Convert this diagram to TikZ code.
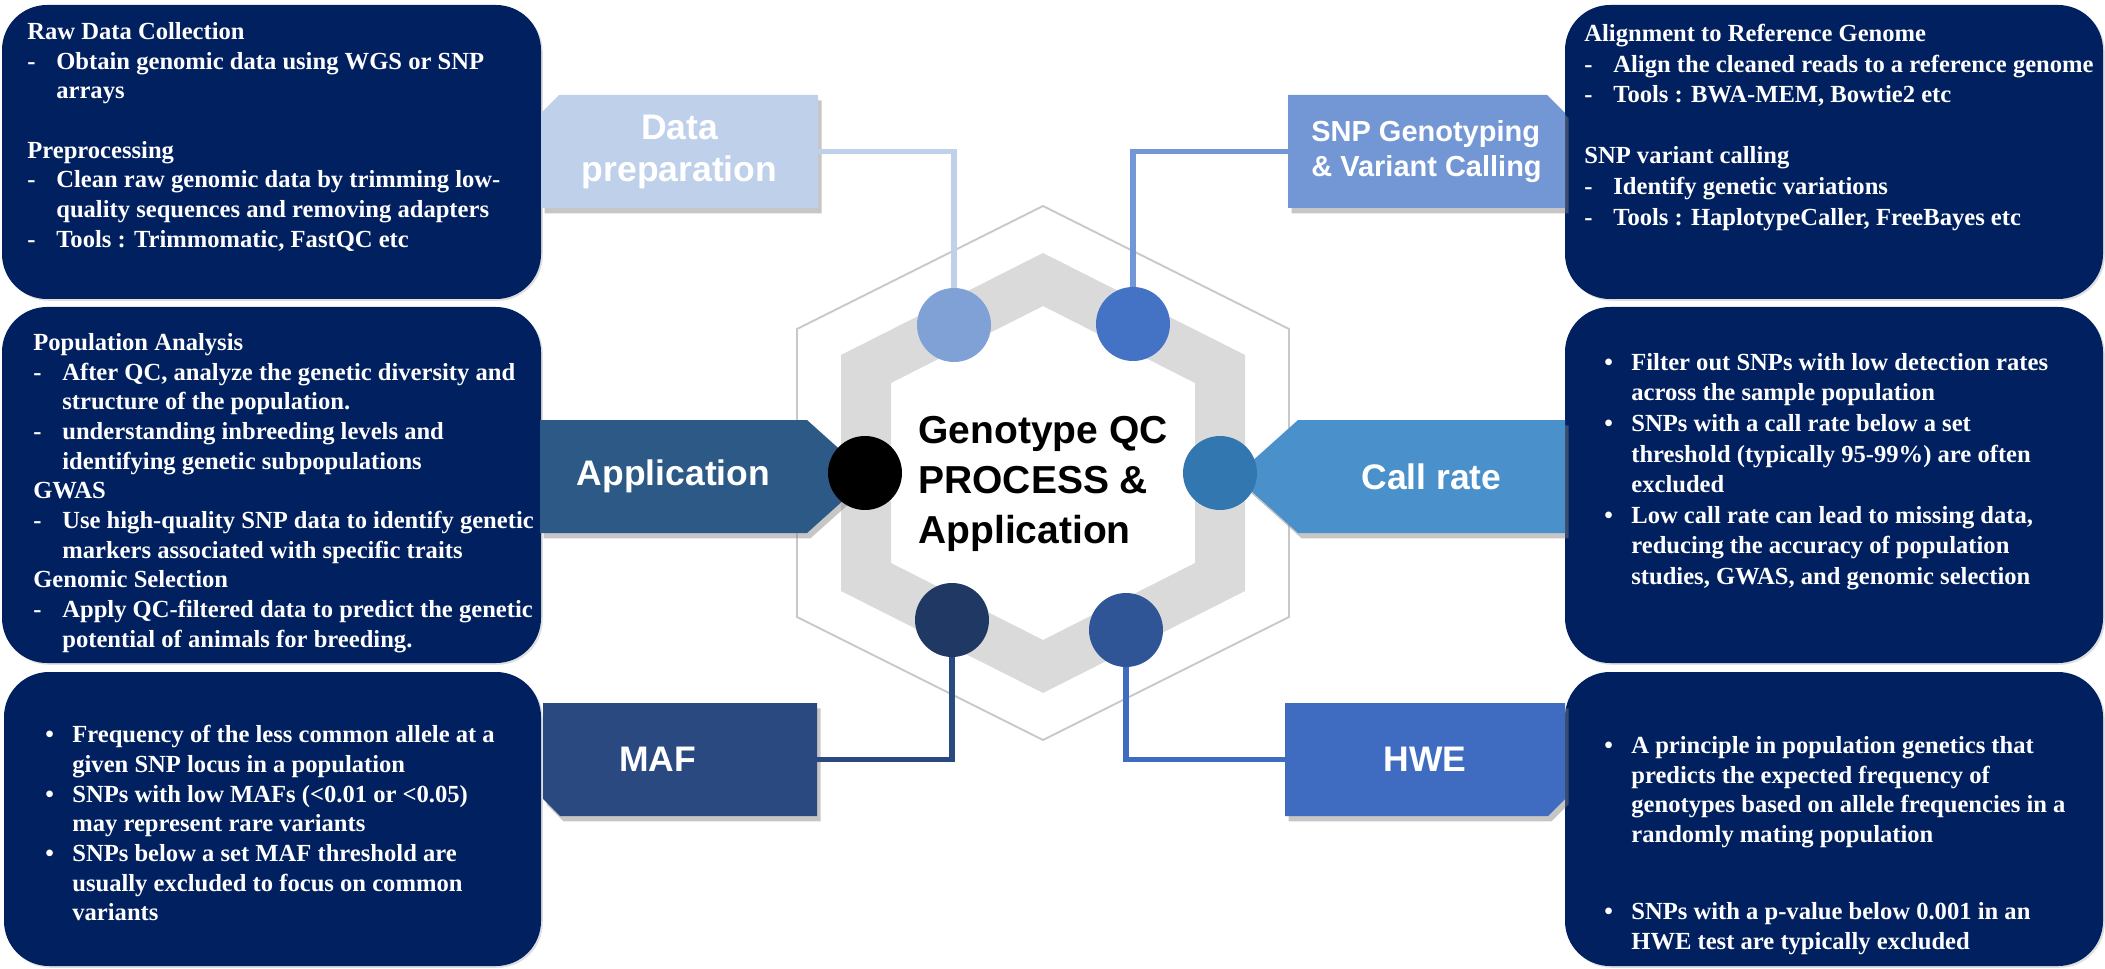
\documentclass[tikz,border=0pt]{standalone}
\usepackage{fontspec}
\setmainfont{Liberation Serif}
\newfontfamily\arialf{Liberation Sans}
\usetikzlibrary{shadows}
\definecolor{navy}{HTML}{002060}
\definecolor{dpblue}{HTML}{BFD1EA}
\definecolor{dpdot}{HTML}{7FA1D6}
\definecolor{snpblue}{HTML}{7396D4}
\definecolor{snpdot}{HTML}{4472C4}
\definecolor{appblue}{HTML}{2D5986}
\definecolor{crblue}{HTML}{4A90CA}
\definecolor{crdot}{HTML}{3277B0}
\definecolor{mafblue}{HTML}{294980}
\definecolor{mafdot}{HTML}{203864}
\definecolor{hweblue}{HTML}{3F6CC0}
\definecolor{hwedot}{HTML}{2F5597}
\definecolor{hexline}{HTML}{C8C8C8}
\definecolor{hexband}{HTML}{DADADA}
\newcommand{\dsh}{\makebox[0.58cm][l]{-}}
\newcommand{\ind}{\hspace*{0.58cm}}
\newcommand{\bul}{\makebox[0.54cm][l]{\textbullet}}
\newcommand{\bind}{\hspace*{0.54cm}}
\begin{document}
\begin{tikzpicture}[x=0.02cm,y=-0.02cm,
  box/.style={fill=navy,rounded corners=0.9cm,drop shadow={shadow xshift=1pt,shadow yshift=-1pt,opacity=0.25}},
  txt/.style={anchor=north west,inner sep=0,align=left,text=white,font=\bfseries\fontsize{14}{16.9}\selectfont},
  tab/.style={drop shadow={shadow xshift=2pt,shadow yshift=-3pt,fill=black!50,opacity=0.45}},
  lbl/.style={inner sep=0,minimum width=5.54cm,minimum height=2.26cm,text=white,align=center,font=\arialf\bfseries\fontsize{20.2}{23.9}\selectfont},
  dot/.style={circle,inner sep=0,minimum size=1.48cm},
  link/.style={line width=3.4pt}]
\def\hx{1043};
\def\hy{473};
\useasboundingbox (0,0) rectangle (2105,969);

% text boxes
\fill[box] (2,5) rectangle (541,299);
\fill[box] (2,307) rectangle (541,663);
\fill[box] (4,672) rectangle (541,966);
\fill[box] (1565,5) rectangle (2103,299);
\fill[box] (1565,307) rectangle (2103,663);
\fill[box] (1565,672) rectangle (2103,966);

\node[txt] (rawtxt) at (27,22) {Raw Data Collection\\
\dsh Obtain genomic data using WGS or SNP\\
\ind arrays\\[16.9pt]
Preprocessing\\
\dsh Clean raw genomic data by trimming low-\\
\ind quality sequences and removing adapters\\
\dsh Tools : Trimmomatic, FastQC etc};

\node[txt] (apptxt) at (33,333) {Population Analysis\\
\dsh After QC, analyze the genetic diversity and\\
\ind structure of the population.\\
\dsh understanding inbreeding levels and\\
\ind identifying genetic subpopulations\\
GWAS\\
\dsh Use high-quality SNP data to identify genetic\\
\ind markers associated with specific traits\\
Genomic Selection\\
\dsh Apply QC-filtered data to predict the genetic\\
\ind potential of animals for breeding.};

\node[txt] (maftxt) at (45,725) {\bul Frequency of the less common allele at a\\
\bind given SNP locus in a population\\
\bul SNPs with low MAFs (<0.01 or <0.05)\\
\bind may represent rare variants\\
\bul SNPs below a set MAF threshold are\\
\bind usually excluded to focus on common\\
\bind variants};

\node[txt,font=\bfseries\fontsize{14}{17.4}\selectfont] (snptxt) at (1584,24) {Alignment to Reference Genome\\
\dsh Align the cleaned reads to a reference genome\\
\dsh Tools : BWA-MEM, Bowtie2 etc\\[17.4pt]
SNP variant calling\\
\dsh Identify genetic variations\\
\dsh Tools : HaplotypeCaller, FreeBayes etc};

\node[txt,font=\bfseries\fontsize{14}{17.4}\selectfont] (crtxt) at (1604,353) {\bul Filter out SNPs with low detection rates\\
\bind across the sample population\\
\bul SNPs with a call rate below a set\\
\bind threshold (typically 95-99\%) are often\\
\bind excluded\\
\bul Low call rate can lead to missing data,\\
\bind reducing the accuracy of population\\
\bind studies, GWAS, and genomic selection};

\node[txt] (hwetxt) at (1604,736) {\bul A principle in population genetics that\\
\bind predicts the expected frequency of\\
\bind genotypes based on allele frequencies in a\\
\bind randomly mating population\\[27pt]
\bul SNPs with a p-value below 0.001 in an\\
\bind HWE test are typically excluded};

% hexagon
\begin{scope}[shift={(\hx,\hy)}]
\draw[hexline,line width=1.1pt] (0,-267) -- (246,-144) -- (246,144) -- (0,267) -- (-246,144) -- (-246,-144) -- cycle;
\fill[hexband,even odd rule] (0,-220) -- (202,-118) -- (202,118) -- (0,220) -- (-202,118) -- (-202,-118) -- cycle
  (0,-167) -- (152,-90) -- (152,90) -- (0,167) -- (-152,90) -- (-152,-90) -- cycle;
\end{scope}
\node[anchor=west,align=left,inner sep=0,font=\arialf\bfseries\fontsize{22.2}{28.45}\selectfont] (title) at (918,484) {Genotype QC\\PROCESS \&\\Application};

% tabs
\fill[dpblue,tab] (541,113) -- (559,95) -- (818,95) -- (818,208) -- (541,208) -- cycle;
\fill[snpblue,tab] (1288,95) -- (1547,95) -- (1565,113) -- (1565,208) -- (1288,208) -- cycle;
\fill[appblue,tab] (540,420) -- (807,420) -- (870,476.5) -- (807,533) -- (540,533) -- cycle;
\fill[crblue,tab] (1565,420) -- (1298,420) -- (1235,476.5) -- (1298,533) -- (1565,533) -- cycle;
\fill[mafblue,tab] (543,703) -- (817,703) -- (817,816) -- (560,816) -- (543,799) -- cycle;
\fill[hweblue,tab] (1285,703) -- (1565,703) -- (1565,799) -- (1548,816) -- (1285,816) -- cycle;

\node[lbl] (dp) at (679.5,151.5) {Data\\preparation};
\node[lbl,font=\arialf\bfseries\fontsize{16.5}{19.9}\selectfont,align=left] (snp) at (1426.5,151.5) {SNP Genotyping\\\& Variant Calling};
\node[lbl] (app) at (673.5,476.5) {Application};
\node[lbl] (cr) at (1431.5,476.5) {Call rate};
\node[lbl,minimum width=5.48cm] (maf) at (680,759.5) {\hspace*{-0.9cm}MAF};
\node[lbl,minimum width=5.6cm] (hwe) at (1425,759.5) {HWE};

% dots
\node[dot,fill=dpdot] (tl) at (954,325) {};
\node[dot,fill=snpdot] (tr) at (1133,324) {};
\node[dot,fill=black] (lc) at (865,473) {};
\node[dot,fill=crdot] (rc) at (1220,473) {};
\node[dot,fill=mafdot] (bl) at (952,620) {};
\node[dot,fill=hwedot] (br) at (1126,630) {};

% links
\draw[link,dpblue] (dp.east) -| (tl);
\draw[link,snpblue] (snp.west) -| (tr);
\draw[link,mafblue] (maf.east) -| (bl);
\draw[link,hweblue] (hwe.west) -| (br);
\end{tikzpicture}
\end{document}
